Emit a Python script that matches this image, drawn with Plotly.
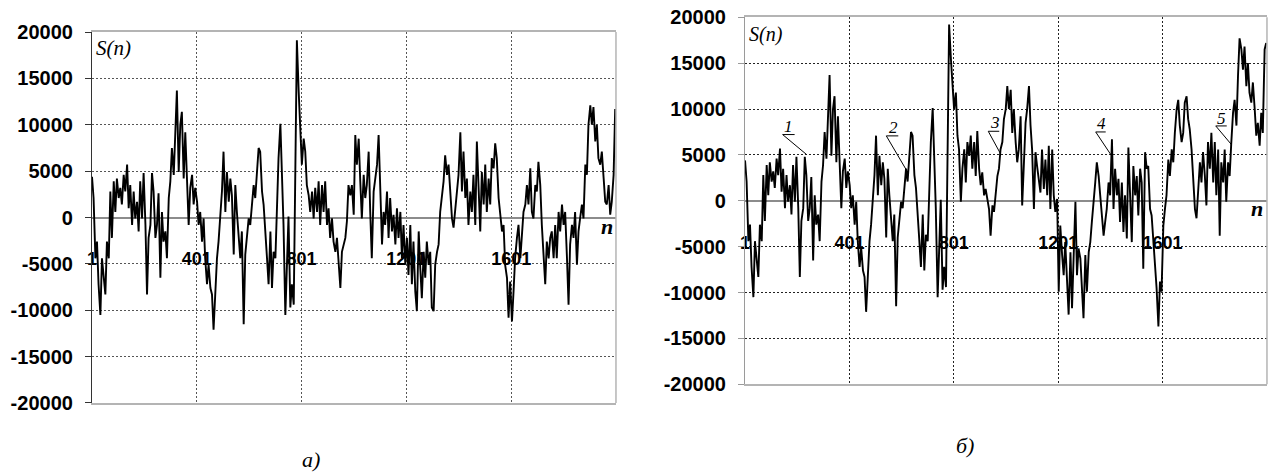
import plotly.graph_objects as go

# ---------------- data ----------------
# S(n) read at every ~6.36th sample of the 2000-sample signals
READ_STEP = 6.36

# part common to both signals (n = 1 ... ~770)
S_COMMON = [
    4400, 2100, -4400, -2600, -7200, -10500, -4400, -6500, -8300, -2600,
    -4400, 2800, -2200, 3900, 600, 4200, 2100, 3200, 1400, 4600,
    2800, 5700, 1000, 3500, -800, 2800, -100, 1700, -1500, 3900,
    -100, 4800, -800, -8300, -2200, -800, 4800, 2800, -2200, -800,
    2600, -6500, 600, -2600, -1500, -4400, 2100, 3900, 7500, 4600,
    8500, 13700, 4900, 10000, 11400, 4200, 9200, 3500, -800, 3200,
    4600, 1400, 3200, 1700, -800, 600, -2600, -100, -4400, -7200,
    -5100, -7600, -8300, -12100, -8000, -4400, -2600, 600, 2800, 7100,
    600, 4900, 1700, 4200, 2400, -4000, 3500, 600, -2600, -4400,
    -1500, -11500, -4000, -2200, -100, -800, 1400, 3500, 2100, 5700,
    7500, 7100, 2800, 1400, -800, -4400, -7200, -1500, -7600, -3700,
    -4400, 1000, 6400, 10100, 5700, -800, -10500, -4400, 100, -9700,
    -7200, -9400,
]

# remainder of signal a)
S_A_TAIL = [
    6400, 19100, 13500, 8900, 5700, 8500, 7100, 3500, 2400, 600,
    2800, -100, 3200, 600, 3900, -800, 3500, 600, 3900, -800,
    1000, -2200, -100, -2600, -3700, -2200, -4400, -7600, -3700, -2900,
    -2200, -400, 3500, 2400,
    3500, 300, 8900, 5700, 8500, 3900, -100, 4600, 2100, 3500,
    7100, 600, -4400, 2800, 3900, 5700, 8900, 4200, -2900, 600,
    -800, 2800, -2200, 2100, -1500, 300, -2900, 1000, -2200, 600,
    -4400, -800, -5100, -2200, -6200, -800, -7200, -2600, -8000, -10100,
    -1500, -5400, -8700, -3700, -6500, -2600, -5100, -3700, -9700, -10100,
    -5100, -3700, -2900, 600, 2100, 3900, 6700, 4600, 5700, 2800,
    -100, -1100, 600, 2800, 4600, 9200, 2800, 7100, 2100, 4200,
    -800, 2800, 600, 4600, -800, 8200, 2100, -1500, 4900, 1400,
    5700, 600, 4200, 1400, 6400, 5300, 8000, 6400, 2100, 600,
    -1500, -800, -5100, -6500, -10800, -6900, -11200, -8000, -4400, -2200,
    -800, -4400, -1500, 600, 1400, 3500, 1400, 5300, 600, -100,
    3500, 2800, 6000, 3500, -800, -4400, -7200, -2600, -4400, -2200,
    -1500, -4400, -800, -4400, 600, -1500, 1400, -800, 600, -4400,
    -9400, -2900, -800, -2200, 600, -5100, -1500, -100, 1400, -100,
    5700, 4600, 10000, 12100, 10000, 11900, 8200, 10000, 6400, 5700,
    7100, 4200, 1700, 1400, 3500, 300, 1700, 4600, 11700,
]

# remainder of signal б)
S_B_TAIL = [
    6400, 19200, 15400, 12500, 10000, 11800, 7100, 5600, -100, 3500,
    5600, 2000, 6400, 4900, 7100, 3500, 6400, 2700, 7600, 3500,
    1700, 3100, 600, 1300, -100, -900, -3800, -500, -1200, 600,
    2700, 3500, 5600, 6400, 8900,
    10000, 12500, 10000, 12100, 7400, 10000, 6400, 4200, 5600, 9200,
    -500, 4500, 8500, 10000, 12500, 8200, 5600, -900, 5300, 3800,
    2000, 900, 5600, 1300, 4500, 600, 6000, -900, 5600, 600,
    -1200, 200, -9900, -2700, -5900, -8100, -4500, -9900, -12400, -5600,
    -11700, -6300, -100, -8100, -5200, -6300, -9900, -12800, -5900, -9900,
    -5600, -4500, -2300, 600, 2000, 4200, 2700, 600, -1600, -3800,
    -2300, -900, 2000, 600, 6700, -900, 3500, 600, 2400, -2300,
    2000, -3400, 600, -4100, 5800, -900, -4500, 3800, 600, 2700,
    -1600, 3500, 2000, -7400, 5300, 3500, 3800, -900, -1600, -4500,
    -6600, -9500, -13700, -8800, -9900, -2700, -900, 600, 4500, 2700,
    5600, 4200, 7400, 10000, 11000, 8200, 6400, 7400, 10700, 11400,
    8900, 7800, 5600, 2000, -900, -1900, 1300, 4200, 2000, 5300,
    2700, -500, 6400, 3500, 7400, 2000, 6400, 600, 5600, -3800,
    4200, 2000, 5600, -100, 4200, 2700, 6200, 9600, 11000, 8200,
    13600, 17700, 16500, 14300, 16800, 12500, 15000, 11800, 10700, 12900,
    10000, 7100, 8500, 6000, 9600, 7400, 16500, 17200,
]

S_A = S_COMMON + S_A_TAIL
S_B = S_COMMON + S_B_TAIL
N_A = [1 + round(i * READ_STEP) for i in range(len(S_A))]
N_B = [1 + round(i * READ_STEP) for i in range(len(S_B))]

X_TICKS = [1, 401, 801, 1201, 1601]
Y_TICKS = [-20000, -15000, -10000, -5000, 0, 5000, 10000, 15000, 20000]

# marked points 1..5 on signal б)
MARK_LABELS = ["1", "2", "3", "4", "5"]
MARK_N = [237, 619, 979, 1406, 1866]
MARK_S = [5040, 3370, 5180, 4890, 6090]

# ---------------- figure ----------------
SANS = "Liberation Sans, Arial, sans-serif"
SERIF = "Liberation Serif, Times New Roman, serif"

fig = go.Figure()

panels = [
    dict(xa="x", ya="y", n=N_A, s=S_A, lab_y=-4600),
    dict(xa="x2", ya="y2", n=N_B, s=S_B, lab_y=-4800),
]
for p in panels:
    fig.add_trace(go.Scatter(
        x=X_TICKS, y=[p["lab_y"]] * len(X_TICKS),
        text=["<b>%d</b>" % v for v in X_TICKS],
        mode="text", textposition="middle center",
        textfont=dict(family=SANS, size=18, color="black"),
        cliponaxis=False, hoverinfo="skip", showlegend=False,
        xaxis=p["xa"], yaxis=p["ya"]))
    fig.add_trace(go.Scatter(
        x=p["n"], y=p["s"], mode="lines",
        line=dict(color="black", width=1.9),
        hoverinfo="skip", showlegend=False,
        xaxis=p["xa"], yaxis=p["ya"]))

def xax(domain, gridc):
    return dict(domain=domain, range=[1, 2001], tickvals=X_TICKS[1:],
                showticklabels=False, ticks="", showgrid=True,
                gridcolor=gridc, griddash="2px,2px", gridwidth=1,
                zeroline=False, showline=True, linecolor="#b4b4b4",
                linewidth=1.5, mirror=True, automargin=False)

def yax(domain, gridc, linec, anchor):
    return dict(domain=domain, range=[-20000, 20000], tickvals=Y_TICKS,
                ticktext=["<b>%d</b>" % v for v in Y_TICKS],
                tickfont=dict(family=SANS, size=20, color="black"),
                ticks="outside", ticklen=6, tickcolor=linec,
                ticklabelstandoff=8, automargin=False,
                showgrid=True, gridcolor=gridc, griddash="2px,2px", gridwidth=1,
                zeroline=True, zerolinecolor="#8c8c8c", zerolinewidth=2,
                showline=True, linecolor=linec, linewidth=1.2, mirror=False,
                anchor=anchor)

fig.update_layout(
    width=1269, height=475,
    margin=dict(l=0, r=0, t=0, b=0, pad=0, autoexpand=False),
    paper_bgcolor="white", plot_bgcolor="white",
    xaxis=dict(xax([0.0725, 0.4854], "#555555"), anchor="y"),
    yaxis=yax([0.1516, 0.9326], "#555555", "#333333", "x"),
    xaxis2=dict(xax([0.5871, 0.9984], "#222222"), anchor="y2"),
    yaxis2=yax([0.1909, 0.9636], "#222222", "#9a9a9a", "x2"),
)

shapes = []
for xr, yr in [("x domain", "y domain"), ("x2 domain", "y2 domain")]:
    shapes.append(dict(type="line", xref=xr, yref=yr, x0=1, x1=1, y0=0, y1=1,
                       line=dict(color="#b4b4b4", width=1.5)))

# leader lines of marks 1..5 (pixel offsets from the marked point)
LEAD = [(-24, 20, 12), (-20, 34, 12), (-12, 22, 11), (-16, 24, 10), (-16, 19, 11)]
TXT = [(-18, 28), (-13, 42), (-5, 31), (-10, 32), (-10, 26)]
annotations = []
for lab, n, s, (dx, dy, ul), (tx, ty) in zip(MARK_LABELS, MARK_N, MARK_S, LEAD, TXT):
    shapes.append(dict(type="path", xref="x2", yref="y2",
                       xsizemode="pixel", ysizemode="pixel",
                       xanchor=n, yanchor=s,
                       path="M0,0 L%d,%d L%d,%d" % (dx, dy, dx + ul, dy),
                       line=dict(color="black", width=1)))
    annotations.append(dict(xref="x2", yref="y2", x=n, y=s, text="<i>%s</i>" % lab,
                            showarrow=False, xanchor="center", yanchor="middle",
                            xshift=tx, yshift=ty,
                            font=dict(family=SERIF, size=17, color="black")))

annotations += [
    dict(xref="x domain", yref="y domain", x=0.003, y=0.995, text="<i>S(n)</i>",
         showarrow=False, xanchor="left", yanchor="top",
         font=dict(family=SERIF, size=21, color="black")),
    dict(xref="x2 domain", yref="y2 domain", x=0.003, y=0.99, text="<i>S(n)</i>",
         showarrow=False, xanchor="left", yanchor="top",
         font=dict(family=SERIF, size=20, color="black")),
    dict(xref="x", yref="y", x=2001, y=0, text="<b><i>n</i></b>",
         showarrow=False, xanchor="right", yanchor="middle", xshift=-1, yshift=-9,
         font=dict(family=SERIF, size=22, color="black")),
    dict(xref="x2", yref="y2", x=2001, y=0, text="<b><i>n</i></b>",
         showarrow=False, xanchor="right", yanchor="middle", xshift=-2, yshift=-8,
         font=dict(family=SERIF, size=22, color="black")),
    dict(xref="paper", yref="paper", x=311 / 1269, y=1 - 459 / 475, text="<i>а)</i>",
         showarrow=False, xanchor="center", yanchor="middle",
         font=dict(family=SERIF, size=22, color="black")),
    dict(xref="paper", yref="paper", x=965 / 1269, y=1 - 445 / 475, text="<i>б)</i>",
         showarrow=False, xanchor="center", yanchor="middle",
         font=dict(family=SERIF, size=22, color="black")),
]

fig.update_layout(shapes=shapes, annotations=annotations)
fig.write_html("out.html", config={"displayModeBar": False},
               post_script="document.body.style.margin='0';document.body.style.overflow='hidden';")
